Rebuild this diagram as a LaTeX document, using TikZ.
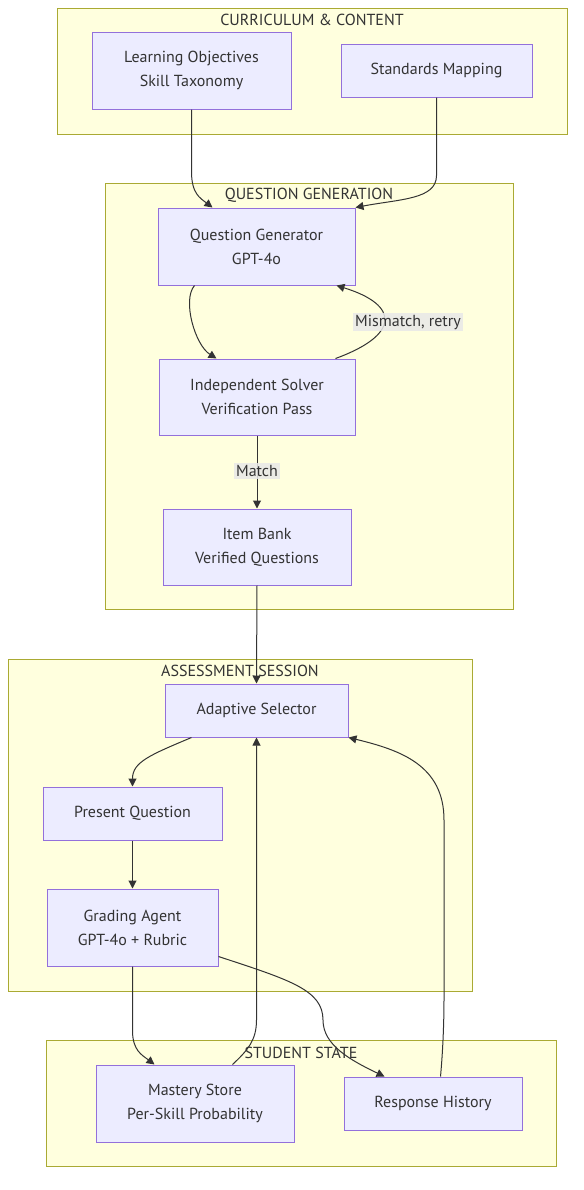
\documentclass[tikz,border=0pt]{standalone}
\usepackage{fontspec}
\setmainfont{PT Sans}
\usetikzlibrary{arrows.meta,calc}
\definecolor{clfill}{HTML}{FFFFDE}
\definecolor{clstroke}{HTML}{AAAA33}
\definecolor{ndfill}{HTML}{ECECFF}
\definecolor{ndstroke}{HTML}{9370DB}
\definecolor{txt}{HTML}{333333}
\definecolor{edge}{HTML}{333333}
\definecolor{lblbg}{HTML}{E8E8E8}
\tikzset{
  cluster/.style={draw=clstroke,fill=clfill,line width=0.75pt},
  ctitle/.style={text=txt,font=\fontsize{12}{14}\selectfont,inner sep=0pt},
  box/.style 2 args={draw=ndstroke,fill=ndfill,line width=0.75pt,text=txt,
    align=center,font=\fontsize{12}{18}\selectfont,inner sep=0pt,
    minimum width=#1*0.75pt,minimum height=#2*0.75pt},
  conn/.style={draw=edge,line width=0.75pt,-{Triangle[length=6pt,width=6pt]}},
  elabel/.style={fill=lblbg,fill opacity=0.85,text opacity=1,text=txt,
    font=\fontsize{12}{14}\selectfont,inner sep=1.5pt}
}
\begin{document}
\begin{tikzpicture}[x=0.75pt,y=-0.75pt]
\useasboundingbox (0,0) rectangle (583,1190);
% clusters
\draw[cluster] (57,8) rectangle (567,134);
\node[ctitle] (t1) at (312,20) {CURRICULUM \& CONTENT};
\draw[cluster] (105,183) rectangle (513,609);
\node[ctitle] (t2) at (309,195) {QUESTION GENERATION};
\draw[cluster] (8,659) rectangle (472,991);
\node[ctitle] (t3) at (240,671) {ASSESSMENT SESSION};
\draw[cluster] (46,1040) rectangle (556,1166);
\node[ctitle] (t4) at (301,1053) {STUDENT STATE};
% nodes
\node[box={199}{77}] (LO) at (191.5,70.5) {Learning Objectives\\Skill Taxonomy};
\node[box={191}{53}] (SM) at (436.5,70.5) {Standards Mapping};
\node[box={197}{77}] (QG) at (256.5,246.5) {Question Generator\\GPT-4o};
\node[box={196}{76}] (IS) at (257,397) {Independent Solver\\Verification Pass};
\node[box={188}{76}] (IB) at (257,547) {Item Bank\\Verified Questions};
\node[box={183}{53}] (AS) at (256.5,710.5) {Adaptive Selector};
\node[box={179}{53}] (PQ) at (132.5,813.5) {Present Question};
\node[box={171}{77}] (GA) at (132.5,927.5) {Grading Agent\\GPT-4o + Rubric};
\node[box={198}{77}] (MS) at (195,1103.5) {Mastery Store\\Per-Skill Probability};
\node[box={178}{53}] (RH) at (433,1103.5) {Response History};
% edges
\draw[conn] (LO.south) -- ++(0,62) .. controls +(0,22) and (200,198) .. ($(QG.north west)+(55,0)$);
\draw[conn] (SM.south) -- ++(0,78) .. controls +(0,24) and (400,199) .. (QG.north east);
\draw[conn] ($(QG.south west)+(37,0)$) .. controls (182,300) and (195,345) .. ($(IS.north west)+(58,0)$);
\draw[conn] ($(IS.north east)+(-20,0)$) .. controls (400,335) and (400,305) .. ($(QG.south east)+(-19,0)$);
\node[elabel] (L1) at (408,322) {Mismatch, retry};
\draw[conn] (IS.south) -- (IB.north);
\node[elabel] (L2) at (257,471) {Match};
\draw[conn] (IB.south) -- (AS.north);
\draw[conn] ($(AS.south west)+(27,0)$) .. controls (150,755) and (132.5,762) .. (PQ.north);
\draw[conn] (PQ.south) -- (GA.north);
\draw[conn] (GA.south) -- ++(0,64) .. controls +(0,20) and (142,1055) .. ($(MS.north west)+(59,0)$);
\draw[conn] ($(MS.north west)+(137,0)$) .. controls (248,1050) and (256.5,1040) .. (256.5,1020) -- (AS.south);
\draw[conn] ($(GA.south east)+(0,-10)$) .. controls (290,980) and (323,990) .. (323,1020) .. controls (323,1045) and (350,1060) .. ($(RH.north west)+(41,0)$);
\draw[conn] ($(RH.north west)+(97,0)$) .. controls (443,1050) and (444,1020) .. (444,1000) -- (444,820) .. controls (444,765) and (400,750) .. (AS.south east);
\end{tikzpicture}
\end{document}
